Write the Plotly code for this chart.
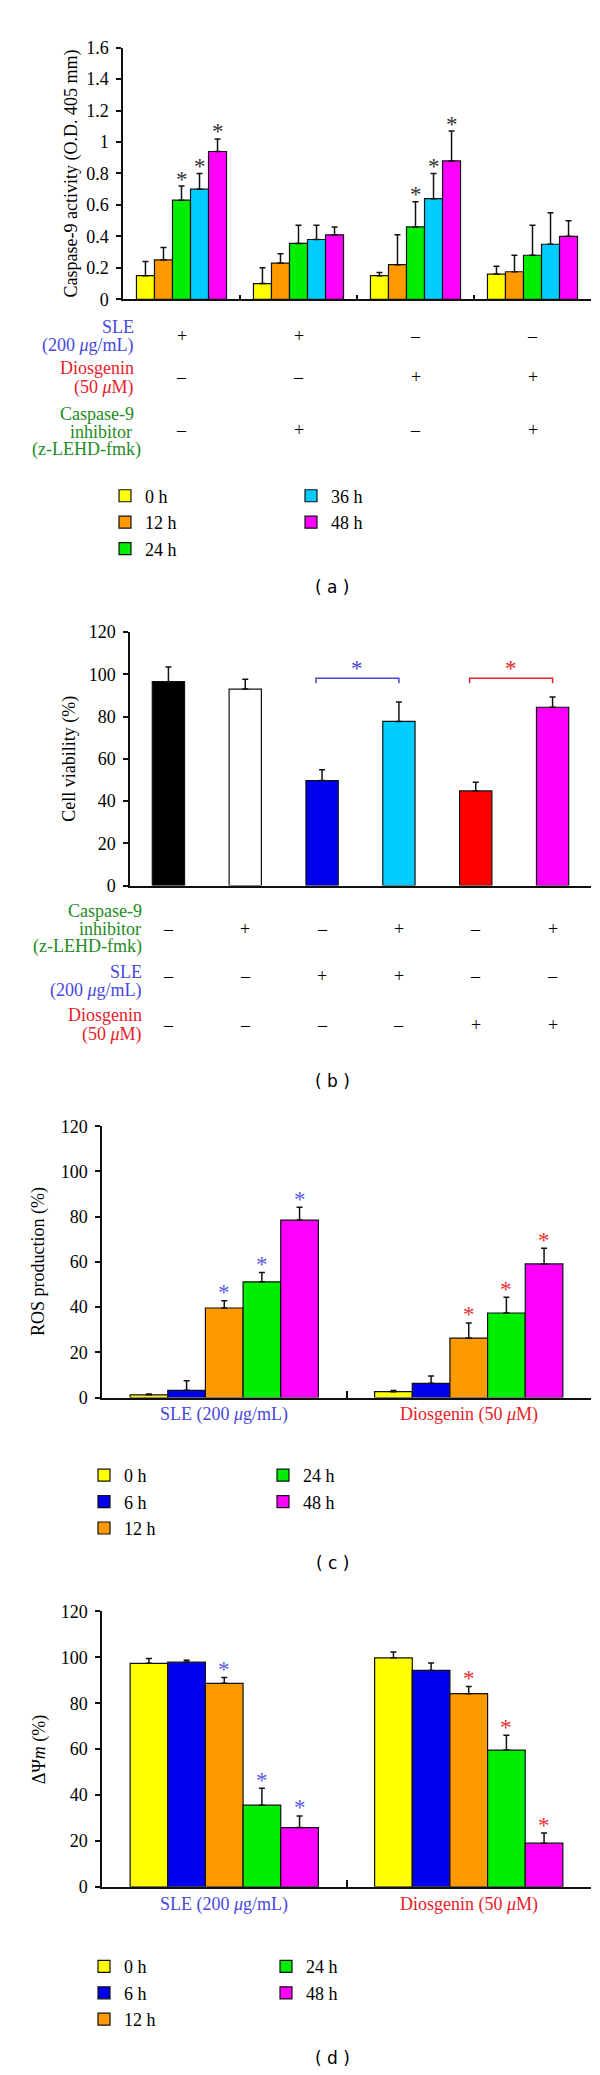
import plotly.graph_objects as go

W, H = 600, 2075
def px(x): return x / W
def py(y): return 1 - y / H

SERIF = "Liberation Serif"
SANS = "DejaVu Sans"
FS = 18
BLUE_T = "#4848dc"
RED_T = "#e8202a"
GREEN_T = "#228b22"
MINUS = "–"

# ---------------- Panel (a): caspase-9 activity ----------------
a_groups = [1, 2, 3, 4]
a_names = ["0 h", "12 h", "24 h", "36 h", "48 h"]
a_colors = ["#FFFF00", "#FF9900", "#00EE00", "#00CCFF", "#FF00FF"]
a_0h = [0.15, 0.10, 0.15, 0.16]
a_12h = [0.25, 0.23, 0.22, 0.175]
a_24h = [0.63, 0.355, 0.46, 0.28]
a_36h = [0.70, 0.38, 0.64, 0.35]
a_48h = [0.94, 0.41, 0.88, 0.40]
a_err_0h = [0.09, 0.10, 0.02, 0.05]
a_err_12h = [0.08, 0.06, 0.19, 0.105]
a_err_24h = [0.09, 0.115, 0.16, 0.19]
a_err_36h = [0.10, 0.09, 0.16, 0.20]
a_err_48h = [0.08, 0.05, 0.19, 0.10]
a_sig_24h = [True, False, True, False]
a_sig_36h = [True, False, True, False]
a_sig_48h = [True, False, True, False]
a_sle = ["+", "+", MINUS, MINUS]
a_dios = [MINUS, MINUS, "+", "+"]
a_inhib = [MINUS, "+", MINUS, "+"]

# ---------------- Panel (b): cell viability ----------------
b_pos = [1, 2, 3, 4, 5, 6]
b_values = [96.5, 93.0, 49.7, 77.7, 44.8, 84.4]
b_err = [7.0, 4.6, 5.1, 9.2, 4.1, 4.8]
b_colors = ["#000000", "#FFFFFF", "#0000EE", "#00CCFF", "#FF0000", "#FF00FF"]
b_inhib = [MINUS, "+", MINUS, "+", MINUS, "+"]
b_sle = [MINUS, MINUS, "+", "+", MINUS, MINUS]
b_dios = [MINUS, MINUS, MINUS, MINUS, "+", "+"]
b_brackets = [(3, 4, BLUE_T), (5, 6, RED_T)]

# ---------------- Panel (c): ROS production ----------------
cd_groups = [1, 2]
cd_group_labels = ["SLE (200 <i>μ</i>g/mL)", "Diosgenin (50 <i>μ</i>M)"]
cd_group_colors = [BLUE_T, RED_T]
cd_names = ["0 h", "6 h", "12 h", "24 h", "48 h"]
cd_colors = ["#FFFF00", "#0000EE", "#FF9900", "#00EE00", "#FF00FF"]
c_0h = [1.2, 2.6]
c_6h = [3.2, 6.3]
c_12h = [39.6, 26.3]
c_24h = [51.2, 37.4]
c_48h = [78.5, 59.1]
c_err_0h = [0.4, 0.5]
c_err_6h = [4.2, 3.2]
c_err_12h = [3.2, 6.7]
c_err_24h = [4.1, 7.0]
c_err_48h = [5.7, 6.9]
c_sig = [False, False, True, True, True]

# ---------------- Panel (d): mitochondrial membrane potential ----------------
d_0h = [97.4, 99.8]
d_6h = [97.9, 94.3]
d_12h = [88.7, 84.2]
d_24h = [35.6, 59.6]
d_48h = [25.8, 19.0]
d_err_0h = [2.1, 2.5]
d_err_6h = [0.8, 3.3]
d_err_12h = [2.5, 3.1]
d_err_24h = [7.4, 6.5]
d_err_48h = [5.1, 4.4]
d_sig = [False, False, True, True, True]

BW = 0.154  # bar width in group units

fig = go.Figure()
annotations = []
shapes = []

def add_group_bars(groups, series, errs, names, colors, xa, ya, legends, rank_split):
    n = len(series)
    for i in range(n):
        fig.add_trace(go.Bar(
            x=groups, y=series[i], width=BW, offset=-n / 2 * BW + i * BW,
            name=names[i], marker=dict(color=colors[i], line=dict(color="#111", width=1.2)),
            error_y=dict(type="data", array=errs[i], arrayminus=[0] * len(groups), symmetric=False,
                         color="#111", thickness=1.5, width=3),
            xaxis=xa, yaxis=ya, legend=legends[0] if i < rank_split else legends[1],
            showlegend=True,
        ))

def add_stars(groups, series, errs, sigs, xref, yref, colors, shift):
    n = len(series)
    for i in range(n):
        for j, g in enumerate(groups):
            if sigs[i][j]:
                annotations.append(dict(
                    x=g + (i - (n - 1) / 2) * BW, y=series[i][j] + errs[i][j], xref=xref, yref=yref,
                    text="*", showarrow=False, yanchor="middle", yshift=shift,
                    font=dict(family=SERIF, size=23, color=colors[j])))

# Panel (a)
a_series = [a_0h, a_12h, a_24h, a_36h, a_48h]
a_errs = [a_err_0h, a_err_12h, a_err_24h, a_err_36h, a_err_48h]
a_sigs = [[False] * 4, [False] * 4, a_sig_24h, a_sig_36h, a_sig_48h]
add_group_bars(a_groups, a_series, a_errs, a_names, a_colors, "x", "y", ["legend", "legend2"], 3)
add_stars(a_groups, a_series, a_errs, a_sigs, "x", "y", ["#333"] * 4, 7)

# Panel (b)
fig.add_trace(go.Bar(
    x=b_pos, y=b_values, width=0.42, marker=dict(color=b_colors, line=dict(color="#111", width=1.2)),
    error_y=dict(type="data", array=b_err, arrayminus=[0] * 6, symmetric=False,
                 color="#111", thickness=1.5, width=3),
    xaxis="x2", yaxis="y2", showlegend=False))
for (p1, p2, col) in b_brackets:
    shapes.append(dict(type="path", xref="x2", yref="y2",
                       path=f"M {p1 - 0.08},95.8 L {p1 - 0.08},98.1 L {p2},98.1 L {p2},95.8",
                       line=dict(color=col, width=1.5)))
    annotations.append(dict(x=(p1 - 0.08 + p2) / 2, y=98.1, xref="x2", yref="y2", text="*",
                            showarrow=False, yanchor="middle", yshift=10,
                            font=dict(family=SERIF, size=23, color=col)))

# Panel (c)
c_series = [c_0h, c_6h, c_12h, c_24h, c_48h]
c_errs = [c_err_0h, c_err_6h, c_err_12h, c_err_24h, c_err_48h]
add_group_bars(cd_groups, c_series, c_errs, cd_names, cd_colors, "x3", "y3", ["legend3", "legend4"], 3)
add_stars(cd_groups, c_series, c_errs, [[s] * 2 for s in c_sig], "x3", "y3", ["#5a5ae6", "#f03030"], 8)

# Panel (d)
d_series = [d_0h, d_6h, d_12h, d_24h, d_48h]
d_errs = [d_err_0h, d_err_6h, d_err_12h, d_err_24h, d_err_48h]
add_group_bars(cd_groups, d_series, d_errs, cd_names, cd_colors, "x4", "y4", ["legend5", "legend6"], 3)
add_stars(cd_groups, d_series, d_errs, [[s] * 2 for s in d_sig], "x4", "y4", ["#5a5ae6", "#f03030"], 8)

def txt(x, y, s, color="black", size=FS, xanchor="center", family=SERIF, xref="paper", angle=0):
    annotations.append(dict(x=x, y=py(y), xref=xref, yref="paper", text=s, showarrow=False,
                            xanchor=xanchor, yanchor="middle", textangle=angle,
                            font=dict(family=family, size=size, color=color)))

# Row labels (a)
txt(px(128), 312, "SLE", BLUE_T, xanchor="right")
txt(px(128), 331, "(200 <i>μ</i>g/mL)", BLUE_T, xanchor="right")
txt(px(128), 353, "Diosgenin", RED_T, xanchor="right")
txt(px(128), 373, "(50 <i>μ</i>M)", RED_T, xanchor="right")
txt(px(128), 400, "Caspase-9", GREEN_T, xanchor="right")
txt(px(126), 418, "inhibitor", GREEN_T, xanchor="right")
txt(px(135), 436, "(z-LEHD-fmk)", GREEN_T, xanchor="right")
for g, s1, s2, s3 in zip(a_groups, a_sle, a_dios, a_inhib):
    txt(g, 321, s1, xref="x")
    txt(g, 362, s2, xref="x")
    txt(g, 416, s3, xref="x")

# Row labels (b)
txt(px(136), 902, "Caspase-9", GREEN_T, xanchor="right")
txt(px(135), 920, "inhibitor", GREEN_T, xanchor="right")
txt(px(136), 938, "(z-LEHD-fmk)", GREEN_T, xanchor="right")
txt(px(136), 963, "SLE", BLUE_T, xanchor="right")
txt(px(136), 982, "(200 <i>μ</i>g/mL)", BLUE_T, xanchor="right")
txt(px(136), 1007, "Diosgenin", RED_T, xanchor="right")
txt(px(136), 1026, "(50 <i>μ</i>M)", RED_T, xanchor="right")
for p, s1, s2, s3 in zip(b_pos, b_inhib, b_sle, b_dios):
    txt(p, 920, s1, xref="x2")
    txt(p, 967, s2, xref="x2")
    txt(p, 1017, s3, xref="x2")

# Group labels (c),(d)
for g, lab, col in zip(cd_groups, cd_group_labels, cd_group_colors):
    txt(g, 1410, lab, col, xref="x3")
    txt(g, 1905, lab, col, xref="x4")

# Y axis titles
txt(px(63), 157, "Caspase-9 activity (O.D. 405 mm)", angle=-90)
txt(px(62), 748, "Cell viability (%)", angle=-90)
txt(px(31), 1256, "ROS production (%)", angle=-90)
txt(px(31), 1749, "ΔΨ<i>m</i> (%)", angle=-90)

# Panel letters
for lab, y in [("( a )", 575), ("( b )", 1073), ("( c )", 1560), ("( d )", 2060)]:
    txt(px(324), y, lab, family=SANS, size=17)

def yax(top, bottom, rng, dtick):
    return dict(domain=[py(bottom), py(top)], range=rng, dtick=dtick, showline=True, linecolor="#111",
                linewidth=1.5, ticks="outside", ticklen=5, tickwidth=1.5, tickcolor="#111",
                showgrid=False, zeroline=False, tickfont=dict(family=SERIF, size=FS, color="black"),
                ticklabelstandoff=4, fixedrange=True)

def xax(left, right, rng, tickvals, ticklen):
    return dict(domain=[px(left), px(right)], range=rng, showline=True, linecolor="#111", linewidth=1.5,
                ticks="inside" if tickvals else "", tickvals=tickvals, ticklen=ticklen, tickwidth=1.5,
                tickcolor="#111", showticklabels=False, showgrid=False, zeroline=False, fixedrange=True)

layout = dict(
    width=W, height=H, margin=dict(l=0, r=0, t=0, b=0),
    paper_bgcolor="white", plot_bgcolor="white", showlegend=True,
    xaxis=dict(xax(115, 583, [0.5, 4.5], [1.5, 2.5, 3.5, 4.5], 5), anchor="y"),
    yaxis=dict(yax(30, 284, [0, 1.6], 0.2), anchor="x"),
    xaxis2=dict(xax(122, 583, [0.5, 6.5], None, 0), anchor="y2"),
    yaxis2=dict(yax(620, 876, [0, 120], 20), anchor="x2"),
    xaxis3=dict(xax(94, 583, [0.5, 2.5], [1.5, 2.5], 7), anchor="y3"),
    yaxis3=dict(yax(1119, 1393, [0, 120], 20), anchor="x3"),
    xaxis4=dict(xax(94, 583, [0.5, 2.5], [1.5, 2.5], 7), anchor="y4"),
    yaxis4=dict(yax(1609, 1887, [0, 120], 20), anchor="x4"),
    annotations=annotations, shapes=shapes,
)

def leg(x, y):
    return dict(x=px(x), y=py(y), xanchor="left", yanchor="top", orientation="v",
                font=dict(family=SERIF, size=FS, color="black"), bgcolor="rgba(0,0,0,0)",
                borderwidth=0, tracegroupgap=0, traceorder="normal")

layout["legend"] = leg(97, 464)
layout["legend2"] = leg(283, 464)
layout["legend3"] = leg(76, 1453)
layout["legend4"] = leg(255, 1453)
layout["legend5"] = leg(76, 1949)
layout["legend6"] = leg(258, 1949)

fig.update_layout(**layout)
fig.write_html("out.html", config={"displayModeBar": False})
